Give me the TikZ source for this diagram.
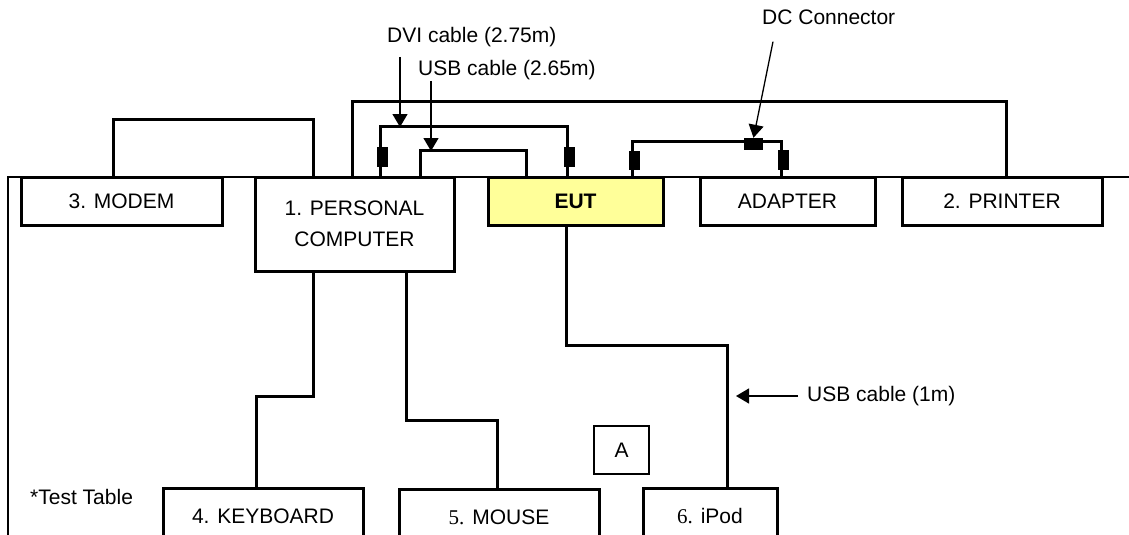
\documentclass[tikz,border=0pt]{standalone}
\usepackage{fontspec}
\setmainfont{Liberation Sans}
\newfontfamily\numfont{Liberation Serif}
\usetikzlibrary{arrows.meta}

\begin{document}
\begin{tikzpicture}[x=1pt,y=-1pt,
    font=\fontsize{21}{31}\selectfont,
    box/.style={draw, line width=3pt, fill=white, inner sep=0pt, align=center},
    cable/.style={line width=3.5pt},
    plug/.style={fill=black, inner sep=0pt},
    callout/.style={line width=1.3pt, -{Triangle[length=13pt,width=15pt]}},
    label/.style={anchor=west, inner sep=0pt}]
  \useasboundingbox (0,0) rectangle (1129,535);
  % test table edge
  \draw[line width=2.5pt] (1140,177) -- (8,177) -- (8,545);
  \node[label] (table) at (30,497) {*Test Table};

  % units on the table
  \node[box, minimum width=201pt, minimum height=48pt] (modem) at (121.5,201) {3. MODEM};
  \node[box, minimum width=199pt, minimum height=94pt] (pc) at (354.5,224) {1. PERSONAL\\COMPUTER};
  \node[box, fill={rgb,255:red,255;green,255;blue,153}, minimum width=175pt, minimum height=48pt] (eut) at (575.5,201) {\textbf{EUT}};
  \node[box, minimum width=175pt, minimum height=48pt] (adp) at (787.5,201) {ADAPTER};
  \node[box, minimum width=200pt, minimum height=48pt] (prn) at (1002,201) {2. PRINTER};
  \node[box, minimum width=200pt, minimum height=57pt] (kbd) at (263,516.5) {4. KEYBOARD};
  \node[box, minimum width=200pt, minimum height=56pt] (mouse) at (499,517) {{\numfont 5.} MOUSE};
  \node[box, minimum width=134pt, minimum height=57pt] (ipod) at (710,516.5) {{\numfont 6.} iPod};
  \node[box, line width=2.5pt, minimum width=55pt, minimum height=48pt] (posA) at (621.5,450) {A};

  % cables above the table
  \draw[cable] ([xshift=94pt]modem.north west) -- ++(0,-56) -| ([xshift=60pt]pc.north west);
  \draw[cable] ([xshift=99pt]pc.north west) -- ++(0,-74) -| ([xshift=106pt]prn.north west);
  \draw[cable] ([xshift=127pt]pc.north west) -- ++(0,-49) -| ([xshift=81pt]eut.north west);
  \draw[cable] ([xshift=167pt]pc.north west) -- ++(0,-25) -| ([xshift=40pt]eut.north west);
  \draw[cable] ([xshift=146pt]eut.north west) -- ++(0,-34) -| ([xshift=83pt]adp.north west);

  % cables below the table
  \draw[cable] ([xshift=60pt]pc.south west) -- ++(0,124) -| ([xshift=95pt]kbd.north west);
  \draw[cable] ([xshift=153pt]pc.south west) -- ++(0,148) -| ([xshift=100pt]mouse.north west);
  \draw[cable] ([xshift=80pt]eut.south west) -- ++(0,119) -| ([xshift=86pt]ipod.north west);

  % plugs
  \node[plug, minimum width=11pt, minimum height=20pt] (dviL) at (382,157) {};
  \node[plug, minimum width=11pt, minimum height=20pt] (dviR) at (569,157) {};
  \node[plug, minimum width=11pt, minimum height=19pt] (dcL) at (634,160) {};
  \node[plug, minimum width=11pt, minimum height=20pt] (dcR) at (783,160) {};
  \node[plug, minimum width=19pt, minimum height=12pt] (dcM) at (753.5,144) {};

  % callouts
  \node[label] (dvitxt) at (387,37) {DVI cable (2.75m)};
  \node[label] (usbtxt) at (418,70) {USB cable (2.65m)};
  \node[label] (dctxt) at (762,17) {DC Connector};
  \node[label] (usb1txt) at (807,396) {USB cable (1m)};
  \coordinate (dviTip) at (400,127);
  \coordinate (usbTip) at (431,151);
  \coordinate (ipodTip) at (736,396);
  \draw[callout] (dviTip |- dvitxt.south) ++(0,10) -- (dviTip);
  \draw[callout] (usbTip |- usbtxt.south) ++(0,1) -- (usbTip);
  \draw[callout] ([xshift=11pt,yshift=-17pt]dctxt.south west) -- (dcM.north);
  \draw[callout] ([xshift=-9pt]usb1txt.west) -- (ipodTip);
\end{tikzpicture}
\end{document}
